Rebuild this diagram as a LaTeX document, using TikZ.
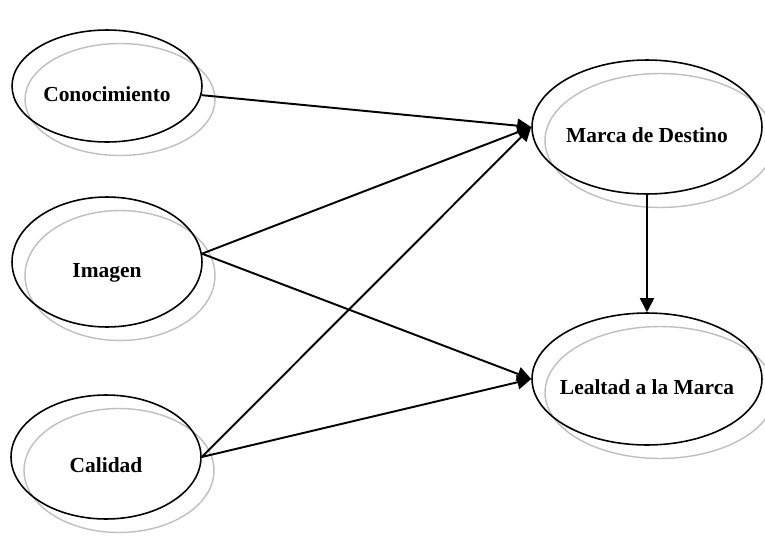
\documentclass[tikz,border=0pt]{standalone}
\usepackage{fontspec}
\setmainfont{Liberation Serif}
\usetikzlibrary{arrows.meta, shapes.geometric, shadows}

\begin{document}
\begin{tikzpicture}[x=0.02cm, y=-0.02cm, >={Triangle[length=8pt, width=8pt]},
    concept/.style={draw, ellipse, line width=0.9pt, inner xsep=-6pt, inner ysep=0pt, minimum width=3.8cm, minimum height=2.4cm,
      font=\fontsize{12.2}{14}\selectfont\bfseries, text height=18pt, text depth=0pt,
      general shadow={draw=black!25, fill=none, line width=0.8pt, shadow xshift=0.26cm, shadow yshift=-0.27cm}},
    path/.style={->, line width=1.1pt}]

        \useasboundingbox (0,0) rectangle (765,538);

        % Nodes
        \node (Con) [concept, minimum height=2.24cm] at (107,86) {Conocimiento};
        \node (Img) [concept, minimum height=2.6cm] at (107,262) {Imagen};
        \node (Cal) [concept, minimum height=2.48cm] at (106,457) {Calidad};
        \node (Mar) [concept, minimum width=4.6cm, minimum height=2.68cm] at (647,127) {Marca de Destino};
        \node (Lea) [concept, minimum width=4.6cm, minimum height=2.64cm] at (647,379) {Lealtad a la Marca};

        % Arrows
        \draw[path] (Con) -- (Mar.west);
        \draw[path] (Img.5) -- (Mar.west);
        \draw[path] (Img.5) -- (Lea.west);
        \draw[path] (Cal.east) -- (Mar.west);
        \draw[path] (Cal.east) -- (Lea.west);
        \draw[path] (Mar) -- (Lea);

\end{tikzpicture}
\end{document}
